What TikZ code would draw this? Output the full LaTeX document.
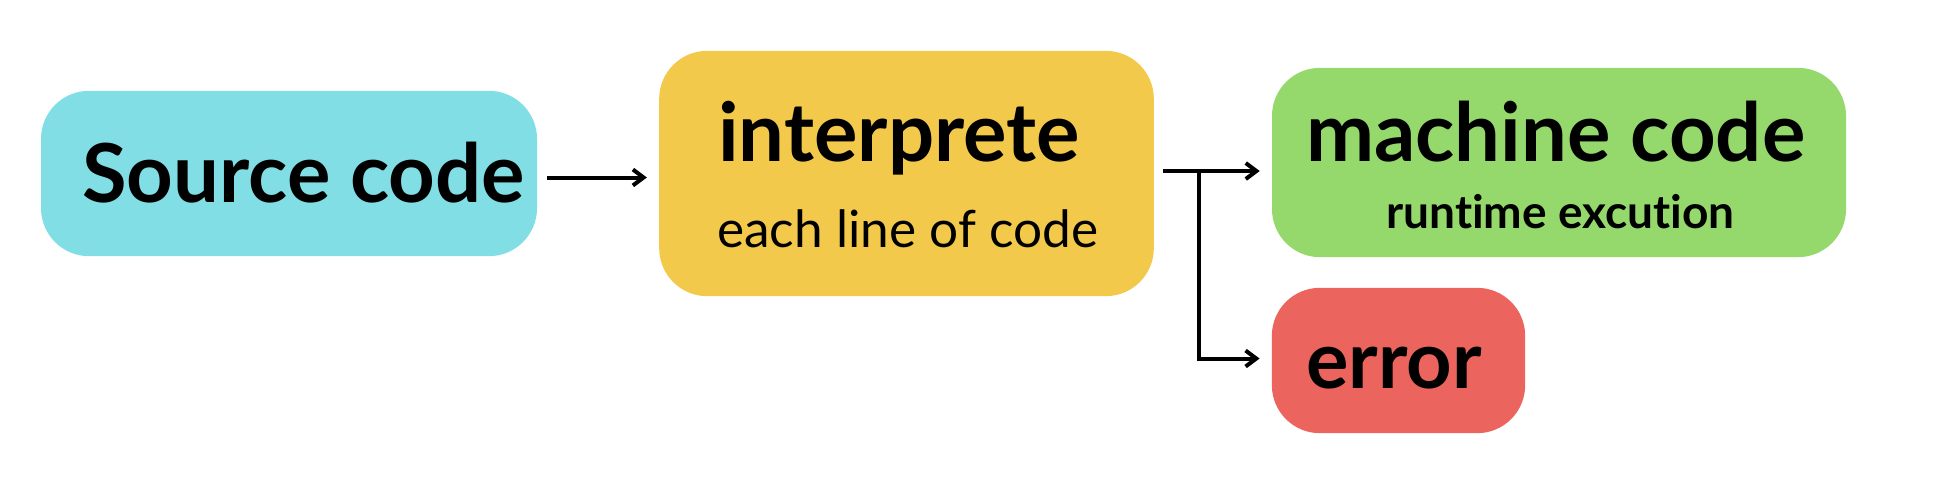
\documentclass[tikz,border=0pt]{standalone}
\usepackage{fontspec}
\setmainfont{Lato}[Ligatures=NoCommon]
\usepackage{tikz}
\usetikzlibrary{calc, arrows.meta}
\definecolor{srcblue}{RGB}{128, 222, 228}
\definecolor{interpyellow}{RGB}{242, 201, 75}
\definecolor{machgreen}{RGB}{149, 216, 107}
\definecolor{errred}{RGB}{236, 100, 94}

\begin{document}
\begin{tikzpicture}[x=0.75pt, y=-0.75pt,
    box/.style={rectangle, rounded corners=36pt, inner sep=0, draw=none},
    bigtext/.style={font=\bfseries\fontsize{61}{64}\selectfont, anchor=base west, inner sep=0},
    subtext/.style={font=\fontsize{38.5}{40}\selectfont, anchor=base west, inner sep=0},
    subbold/.style={font=\bfseries\fontsize{34.5}{36}\selectfont, anchor=base west, inner sep=0},
    flow/.style={line width=3pt, -{Straight Barb[length=8pt, width=12pt, line width=3pt]}}]
  \useasboundingbox (0, 0) rectangle (1956, 490);

  \node[box, fill=srcblue, minimum width=372pt, minimum height=124pt] (src) at (289, 173.5) {};
  \node[box, fill=interpyellow, minimum width=371pt, minimum height=184pt] (interp) at (906.5, 173.5) {};
  \node[box, fill=machgreen, minimum width=430.5pt, minimum height=142pt] (mach) at (1559, 162.5) {};
  \node[box, fill=errred, minimum width=190pt, minimum height=109pt] (err) at (1398.5, 360.5) {};

  \node[bigtext] (srclabel) at (82, 202) {Source code};
  \node[bigtext] (interplabel) at (718, 161) {interprete};
  \node[subtext] (interpsub) at (717, 247) {each line of code};
  \node[bigtext] (machlabel) at (1306, 161) {machine code};
  \node[subbold] (machsub) at (1386, 228) {runtime excution};
  \node[bigtext, font=\bfseries\fontsize{59.5}{62}\selectfont] (errlabel) at (1306, 388) {error};

  \coordinate (fork) at (1199, 171);
  \draw[flow] ($(src.east) + (10, 4)$) -- ($(interp.west |- src.east) + (-12, 4)$);
  \draw[flow] ($(interp.east |- fork) + (9, 0)$) -- ($(mach.west |- fork) + (-12, 0)$);
  \draw[flow] (fork) |- ($(err.west) + (-12, -2)$);
\end{tikzpicture}
\end{document}
